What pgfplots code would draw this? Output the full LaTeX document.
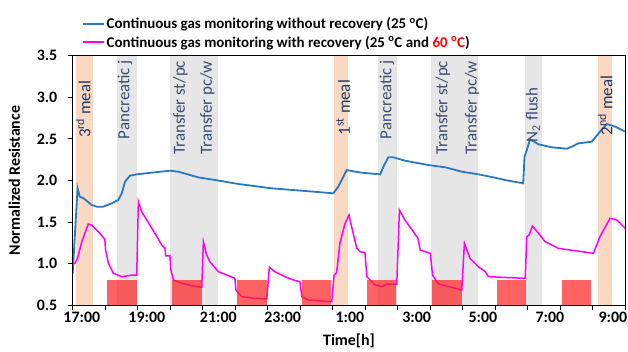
\documentclass[border=0pt]{standalone}
\usepackage{fontspec}
\setmainfont{Carlito}
\usepackage{pgfplots}
\pgfplotsset{compat=1.18}
\definecolor{bandgrey}{HTML}{E7E6E6}
\definecolor{bandorange}{HTML}{F9D9C2}
\definecolor{lineblue}{HTML}{2A78C0}
\definecolor{linemag}{HTML}{FF00FF}
\definecolor{labnavy}{HTML}{1F3864}
\definecolor{labslate}{HTML}{3C4D75}
\definecolor{rectred}{HTML}{FF2020}
\definecolor{legred}{HTML}{FF0000}
\begin{document}
\begin{tikzpicture}
\useasboundingbox (-72.7bp,-46.7bp) rectangle (555.3bp,305.3bp);
\begin{axis}[
  at={(0,0)}, anchor=south west,
  scale only axis, width=552.6bp, height=249.6bp,
  xmin=0, xmax=17, ymin=0.5, ymax=3.5,
  axis on top,
  axis line style={black, line width=1.3bp},
  tick pos=left, tick align=outside,
  major tick length=5bp,
  tick style={black, line width=1bp},
  xtick={0,1,...,17}, xticklabels={},
  extra x ticks={0.28,2.28,4.48,6.46,8.53,10.58,12.62,14.68,16.62},
  extra x tick labels={17:00,19:00,21:00,23:00,1:00,3:00,5:00,7:00,9:00},
  extra x tick style={major tick length=0pt},
  ytick={0.5,1.0,...,3.5},
  /pgf/number format/assume math mode=true,
  yticklabel style={/pgf/number format/.cd, fixed, fixed zerofill, precision=1, /tikz/.cd, xshift=-7bp},
  tick label style={font=\bfseries\fontsize{16}{19}\selectfont},
  xticklabel style={yshift=-3bp},
  xlabel={Time[h]},
  ylabel={Normalized Resistance},
  ylabel style={yshift=10bp},
  label style={font=\bfseries\fontsize{16}{19}\selectfont},
  legend style={at={(axis description cs:0,1)}, anchor=south west, draw=none, fill=none,
     font=\bfseries\fontsize{15}{18}\selectfont, row sep=1.5bp, xshift=8bp, yshift=4bp, inner sep=1bp},
  legend cell align=left,
  legend image code/.code={\draw[#1] (0bp,0bp) -- (21bp,0bp);},
]
% bands
\addplot[fill=bandorange, draw=none, forget plot] coordinates {(0.10,0.5) (0.10,3.5) (0.62,3.5) (0.62,0.5)} -- cycle;
\addplot[fill=bandgrey, draw=none, forget plot] coordinates {(1.35,0.5) (1.35,3.5) (1.97,3.5) (1.97,0.5)} -- cycle;
\addplot[fill=bandgrey, draw=none, forget plot] coordinates {(2.99,0.5) (2.99,3.5) (4.48,3.5) (4.48,0.5)} -- cycle;
\addplot[fill=bandorange, draw=none, forget plot] coordinates {(8.04,0.5) (8.04,3.5) (8.48,3.5) (8.48,0.5)} -- cycle;
\addplot[fill=bandgrey, draw=none, forget plot] coordinates {(9.40,0.5) (9.40,3.5) (9.99,3.5) (9.99,0.5)} -- cycle;
\addplot[fill=bandgrey, draw=none, forget plot] coordinates {(11.02,0.5) (11.02,3.5) (12.48,3.5) (12.48,0.5)} -- cycle;
\addplot[fill=bandgrey, draw=none, forget plot] coordinates {(13.92,0.5) (13.92,3.5) (14.43,3.5) (14.43,0.5)} -- cycle;
\addplot[fill=bandorange, draw=none, forget plot] coordinates {(16.17,0.5) (16.17,3.5) (16.60,3.5) (16.60,0.5)} -- cycle;
% curves
\addplot[lineblue, line width=1.8bp] coordinates {
(0,0.885)(0.15,1.906)(0.22,1.805)(0.33,1.786)(0.40,1.766)(0.58,1.706)(0.74,1.685)(0.94,1.685)(1.20,1.726)(1.40,1.766)(1.51,1.846)(1.61,1.986)(1.76,2.058)(1.97,2.074)(2.43,2.094)(2.99,2.118)(3.25,2.106)(3.86,2.038)(4.38,2.006)(5.10,1.958)(6.12,1.906)(7.15,1.874)(8.02,1.846)(8.17,1.926)(8.43,2.126)(8.69,2.106)(8.89,2.094)(9.46,2.074)(9.56,2.166)(9.71,2.279)(9.86,2.279)(10.22,2.238)(10.94,2.186)(11.46,2.159)(11.97,2.106)(12.48,2.074)(12.99,2.034)(13.30,2.006)(13.86,1.966)(13.90,2.286)(13.97,2.366)(14.07,2.495)(14.33,2.435)(14.74,2.399)(15.20,2.382)(15.35,2.406)(15.56,2.447)(15.97,2.466)(16.22,2.587)(16.43,2.679)(16.69,2.647)(17.0,2.587)};
\addlegendentry{Continuous gas monitoring without recovery (25 \textsuperscript{o}C)}
\addplot[linemag, line width=1.5bp] coordinates {
(0,1.005)(0.07,1.005)(0.15,1.065)(0.28,1.265)(0.48,1.477)(0.58,1.465)(0.79,1.385)(0.99,1.293)(1.01,1.165)(1.10,1.005)(1.25,0.885)(1.51,0.844)(1.66,0.852)(1.82,0.864)(1.97,0.864)(2.02,1.745)(2.12,1.625)(2.28,1.525)(2.53,1.365)(2.74,1.225)(2.84,1.185)(2.86,1.093)(2.99,1.093)(3.02,0.924)(3.10,0.804)(3.35,0.764)(3.66,0.736)(3.97,0.716)(4.02,1.265)(4.12,1.105)(4.22,1.024)(4.48,0.904)(4.74,0.864)(4.99,0.824)(5.02,0.684)(5.20,0.603)(5.61,0.584)(5.97,0.576)(6.05,0.957)(6.22,0.904)(6.53,0.844)(6.79,0.804)(6.99,0.784)(7.05,0.603)(7.25,0.564)(7.97,0.543)(8.04,0.864)(8.12,0.892)(8.22,1.245)(8.38,1.486)(8.50,1.585)(8.58,1.445)(8.74,1.185)(8.84,1.144)(8.99,1.132)(9.05,0.844)(9.30,0.744)(9.51,0.724)(9.66,0.756)(9.97,0.756)(10.05,1.645)(10.22,1.525)(10.48,1.385)(10.62,1.305)(10.69,1.165)(11.0,1.125)(11.07,0.864)(11.25,0.756)(11.66,0.716)(11.97,0.684)(12.05,1.245)(12.22,1.065)(12.48,0.964)(12.69,0.904)(12.79,0.844)(13.92,0.824)(13.97,1.325)(14.04,1.345)(14.14,1.453)(14.33,1.365)(14.53,1.265)(14.94,1.185)(15.46,1.156)(16.02,1.125)(16.22,1.325)(16.53,1.546)(16.74,1.525)(17.0,1.425)};
\addlegendentry{Continuous gas monitoring with recovery (25 \textsuperscript{o}C and \textcolor{legred}{60 \textsuperscript{o}C})}
% heating periods
\addplot[fill=rectred, fill opacity=0.7, draw=none, forget plot] coordinates {(1.05,0.5) (1.05,0.81) (1.97,0.81) (1.97,0.5)} -- cycle;
\addplot[fill=rectred, fill opacity=0.7, draw=none, forget plot] coordinates {(3.06,0.5) (3.06,0.81) (3.98,0.81) (3.98,0.5)} -- cycle;
\addplot[fill=rectred, fill opacity=0.7, draw=none, forget plot] coordinates {(5.06,0.5) (5.06,0.81) (5.97,0.81) (5.97,0.5)} -- cycle;
\addplot[fill=rectred, fill opacity=0.7, draw=none, forget plot] coordinates {(7.05,0.5) (7.05,0.81) (7.95,0.81) (7.95,0.5)} -- cycle;
\addplot[fill=rectred, fill opacity=0.7, draw=none, forget plot] coordinates {(9.06,0.5) (9.06,0.81) (9.95,0.81) (9.95,0.5)} -- cycle;
\addplot[fill=rectred, fill opacity=0.7, draw=none, forget plot] coordinates {(11.06,0.5) (11.06,0.81) (11.97,0.81) (11.97,0.5)} -- cycle;
\addplot[fill=rectred, fill opacity=0.7, draw=none, forget plot] coordinates {(13.06,0.5) (13.06,0.81) (13.95,0.81) (13.95,0.5)} -- cycle;
\addplot[fill=rectred, fill opacity=0.7, draw=none, forget plot] coordinates {(15.06,0.5) (15.06,0.81) (15.96,0.81) (15.96,0.5)} -- cycle;
% band labels
\begin{scope}[every node/.style={rotate=90, anchor=east, inner sep=0pt, font=\fontsize{17}{20}\selectfont}]
\node[text=labnavy] at (axis cs:0.32,3.20) {3\textsuperscript{rd} meal};
\node[text=labslate] at (axis cs:1.61,3.45) {Pancreatic j};
\node[text=labslate] at (axis cs:3.31,3.44) {Transfer st/pc};
\node[text=labslate] at (axis cs:4.14,3.44) {Transfer pc/w};
\node[text=labnavy] at (axis cs:8.32,3.21) {1\textsuperscript{st} meal};
\node[text=labslate] at (axis cs:9.67,3.45) {Pancreatic j};
\node[text=labslate] at (axis cs:11.39,3.44) {Transfer st/pc};
\node[text=labslate] at (axis cs:12.29,3.44) {Transfer pc/w};
\node[text=labslate] at (axis cs:14.16,3.12) {N\textsubscript{2} flush};
\node[text=labnavy] at (axis cs:16.38,3.26) {2\textsuperscript{nd} meal};
\end{scope}
\end{axis}
\end{tikzpicture}
\end{document}
